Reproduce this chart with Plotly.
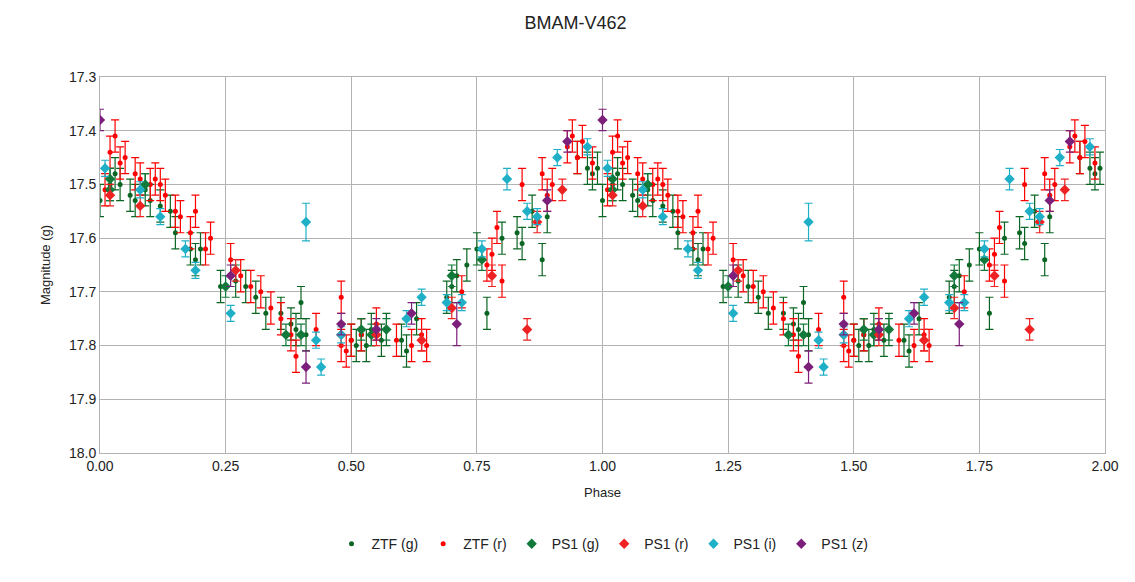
import plotly.graph_objects as go

ztf_g_phase = [0.00,0.02,0.03,0.04,0.06,0.07,0.09,0.10,0.12,0.14,0.15,0.18,0.19,0.20,0.24,0.27,0.29,0.31,0.33,0.36,0.38,0.39,0.40,0.41,0.50,0.51,0.52,0.53,0.54,0.56,0.57,0.60,0.61,0.63,0.69,0.70,0.71,0.73,0.75,0.77,0.80,0.83,0.84,0.86,0.88,0.89,0.95,0.97,0.98,0.99]
ztf_g_mag = [17.53,17.50,17.48,17.50,17.52,17.53,17.51,17.53,17.54,17.55,17.59,17.62,17.64,17.62,17.69,17.68,17.69,17.71,17.74,17.74,17.76,17.77,17.72,17.78,17.79,17.80,17.78,17.80,17.77,17.79,17.77,17.79,17.81,17.75,17.71,17.69,17.67,17.65,17.62,17.74,17.60,17.59,17.61,17.55,17.64,17.56,17.45,17.47,17.48,17.47]
ztf_g_err = [0.03]*len(ztf_g_phase)

ztf_r_phase = [0.01,0.02,0.03,0.04,0.05,0.07,0.08,0.10,0.11,0.12,0.13,0.15,0.16,0.18,0.19,0.21,0.22,0.26,0.28,0.30,0.32,0.34,0.36,0.38,0.39,0.43,0.48,0.48,0.49,0.50,0.52,0.55,0.59,0.62,0.64,0.65,0.72,0.77,0.78,0.79,0.80,0.84,0.88,0.89,0.90,0.93,0.94,0.95,0.96,0.98]
ztf_r_mag = [17.51,17.44,17.41,17.46,17.45,17.48,17.49,17.50,17.49,17.50,17.52,17.55,17.56,17.59,17.55,17.62,17.60,17.64,17.67,17.69,17.70,17.73,17.75,17.78,17.82,17.77,17.71,17.80,17.81,17.79,17.78,17.76,17.79,17.80,17.78,17.80,17.70,17.65,17.63,17.58,17.68,17.50,17.48,17.52,17.50,17.43,17.41,17.45,17.42,17.46]
ztf_r_err = [0.03]*len(ztf_r_phase)

ps1_g_phase = [0.02,0.02,0.09,0.25,0.37,0.40,0.52,0.54,0.57,0.70,0.76]
ps1_g_mag = [17.51,17.49,17.50,17.69,17.78,17.78,17.77,17.78,17.77,17.67,17.64]
ps1_g_err = [0.02]*len(ps1_g_phase)

ps1_r_phase = [0.02,0.08,0.27,0.48,0.55,0.64,0.70,0.78,0.85,0.87,0.92]
ps1_r_mag = [17.52,17.54,17.66,17.78,17.78,17.79,17.73,17.67,17.77,17.57,17.51]
ps1_r_err = [0.02]*len(ps1_r_phase)

ps1_i_phase = [0.01,0.08,0.12,0.17,0.19,0.26,0.41,0.43,0.44,0.48,0.61,0.64,0.69,0.72,0.76,0.81,0.85,0.87,0.91,0.97]
ps1_i_mag = [17.47,17.51,17.56,17.62,17.66,17.74,17.57,17.79,17.84,17.78,17.75,17.71,17.72,17.72,17.62,17.49,17.55,17.56,17.45,17.43]
ps1_i_err = [0.015,0.015,0.015,0.015,0.015,0.015,0.035,0.015,0.015,0.015,0.015,0.015,0.015,0.015,0.015,0.02,0.015,0.015,0.015,0.015]

ps1_z_phase = [0.00,0.26,0.41,0.48,0.55,0.62,0.71,0.89,0.93]
ps1_z_mag = [17.38,17.67,17.84,17.76,17.77,17.74,17.76,17.53,17.42]
ps1_z_err = [0.02,0.02,0.03,0.02,0.02,0.02,0.04,0.02,0.02]

series = [
    ("ZTF (g)", ztf_g_phase, ztf_g_mag, ztf_g_err, "#0b6623", "circle", 5),
    ("ZTF (r)", ztf_r_phase, ztf_r_mag, ztf_r_err, "#ff0000", "circle", 5),
    ("PS1 (g)", ps1_g_phase, ps1_g_mag, ps1_g_err, "#117a3a", "diamond", 8),
    ("PS1 (r)", ps1_r_phase, ps1_r_mag, ps1_r_err, "#ee2222", "diamond", 8),
    ("PS1 (i)", ps1_i_phase, ps1_i_mag, ps1_i_err, "#1fb0c8", "diamond", 8),
    ("PS1 (z)", ps1_z_phase, ps1_z_mag, ps1_z_err, "#7b1f7a", "diamond", 8),
]

fig = go.Figure()
for name, ph, mag, err, col, sym, sz in series:
    x = list(ph) + [p + 1 for p in ph]
    y = list(mag) * 2
    e = list(err) * 2
    fig.add_trace(go.Scatter(
        x=x, y=y, mode="markers", name=name,
        marker=dict(color=col, symbol=sym, size=sz),
        error_y=dict(type="data", array=e, color=col, thickness=1.2, width=4),
    ))

fig.update_layout(
    width=1135, height=582, paper_bgcolor="white", plot_bgcolor="white",
    font=dict(family="Liberation Sans, Arial", color="#222", size=13),
    title=dict(text="BMAM-V462", x=0.5, xanchor="center", y=0.985, yanchor="top", font=dict(size=18)),
    margin=dict(l=92, r=38, t=69, b=137),
    showlegend=True,
    legend=dict(orientation="h", x=0.5, xanchor="center", y=-0.2, yanchor="top",
                font=dict(size=14), itemwidth=30, traceorder="normal"),
)
fig.update_xaxes(range=[0, 2], tick0=0, dtick=0.25, tickformat=".2f",
                 showgrid=True, gridcolor="#b3b3b3", linecolor="#b3b3b3", mirror=True,
                 zeroline=False, title=dict(text="Phase", font=dict(size=13)), tickfont=dict(size=14))
fig.update_yaxes(range=[18.0, 17.3], tick0=17.3, dtick=0.1, tickformat=".1f",
                 showgrid=True, gridcolor="#b3b3b3", linecolor="#b3b3b3", mirror=True,
                 zeroline=False, title=dict(text="Magnitude (g)", font=dict(size=13)), tickfont=dict(size=14))

fig.write_html("out.html")
